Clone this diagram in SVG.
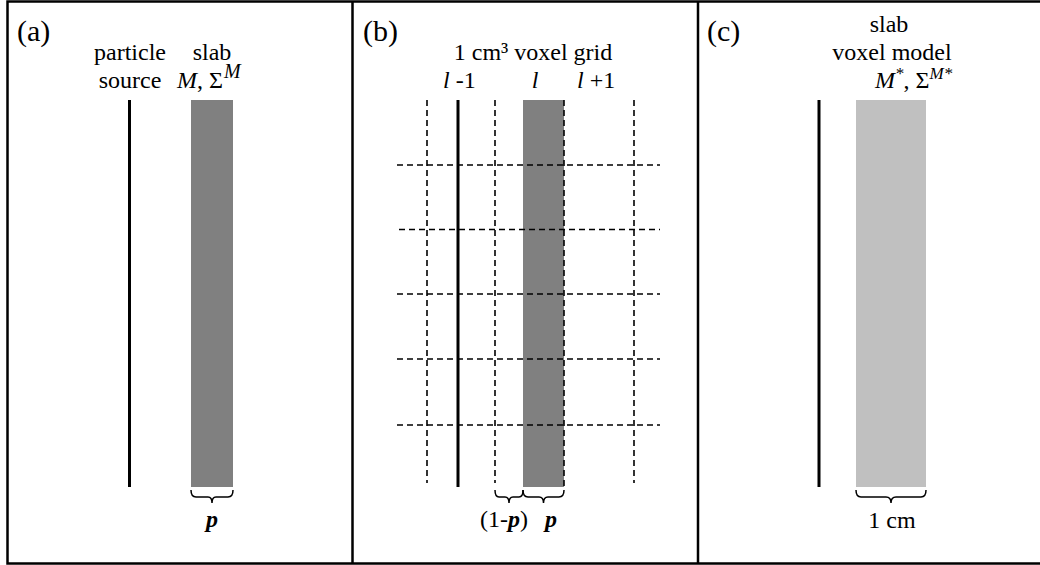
<svg xmlns="http://www.w3.org/2000/svg" width="1040" height="565" viewBox="0 0 1040 565" font-family="'Liberation Serif', 'Times New Roman', 'DejaVu Serif', serif">
<style>
text{font-family:'Liberation Serif','Times New Roman','DejaVu Serif',serif;font-size:24px;fill:#000}
.pl{font-size:30px}
.it{font-style:italic}
.bi{font-style:italic;font-weight:bold}
.sup{font-size:17px;font-style:italic}
.supa{font-size:20px;font-style:italic}
.src{stroke:#000;stroke-width:3;fill:none}
.dash{stroke:#000;stroke-width:1.6;stroke-dasharray:6,4;fill:none}
.brace{stroke:#000;stroke-width:1.5;fill:none}
.frame{stroke:#000;stroke-width:2.5;fill:none}
</style>
<rect width="1040" height="565" fill="#fff"/>
<g id="frame">
<path class="frame" d="M1045,1.5 H7.5 V563.5 H1045 M352.5,1.5 V563.5 M698,1.5 V563.5"/>
</g>
<g id="panel-a">
<text class="pl" x="17" y="41">(a)</text>
<text x="130" y="60" text-anchor="middle">particle</text>
<text x="130" y="88" text-anchor="middle">source</text>
<text x="212" y="60" text-anchor="middle">slab</text>
<text x="177" y="88" font-size="26"><tspan class="it">M</tspan>, Σ<tspan class="supa" dy="-10" dx="1">M</tspan></text>
<line id="source-a" class="src" x1="129.5" y1="100" x2="129.5" y2="487"/>
<rect id="slab-a" x="191" y="100" width="42" height="387" fill="#808080"/>
<path class="brace" d="M191,490 Q191,497 196,497 H208 Q212,497 212,503 Q212,497 216,497 H228 Q233,497 233,490"/>
<text class="bi" x="212" y="527" text-anchor="middle">p</text>
</g>
<g id="panel-b">
<text class="pl" x="363" y="41">(b)</text>
<text x="533" y="60" text-anchor="middle">1 cm³ voxel grid</text>
<text x="443" y="88"><tspan class="it">l</tspan> -1</text>
<text x="535" y="88" class="it" text-anchor="middle">l</text>
<text x="577" y="88"><tspan class="it">l</tspan> +1</text>
<rect id="slab-b" x="523" y="100" width="41" height="387" fill="#808080"/>
<g id="grid">
<line class="dash" x1="427" y1="100" x2="427" y2="483"/>
<line class="dash" x1="495" y1="100" x2="495" y2="483"/>
<line class="dash" x1="564" y1="100" x2="564" y2="487"/>
<line class="dash" x1="634" y1="100" x2="634" y2="483"/>
<line class="dash" x1="397" y1="165" x2="660" y2="165"/>
<line class="dash" x1="399" y1="229.5" x2="660" y2="229.5"/>
<line class="dash" x1="397" y1="294" x2="660" y2="294"/>
<line class="dash" x1="397" y1="359" x2="660" y2="359"/>
<line class="dash" x1="397" y1="425" x2="660" y2="425"/>
</g>
<line id="source-b" class="src" x1="458" y1="100" x2="458" y2="487"/>
<path class="brace" d="M495,490 Q495,497 499,497 H505 Q509,497 509,503 Q509,497 513,497 H519 Q523,497 523,490"/>
<path class="brace" d="M523,490 Q523,497 528,497 H539 Q543.5,497 543.5,503 Q543.5,497 548,497 H559 Q564,497 564,490"/>
<text x="480" y="527">(1-<tspan class="bi">p</tspan>)</text>
<text class="bi" x="551" y="527" text-anchor="middle">p</text>
</g>
<g id="panel-c">
<text class="pl" x="707" y="41">(c)</text>
<text x="889" y="32" text-anchor="middle">slab</text>
<text x="892" y="60" text-anchor="middle">voxel model</text>
<text x="875" y="88"><tspan class="it">M</tspan><tspan class="sup" dy="-9">*</tspan><tspan dy="9">, Σ</tspan><tspan class="sup" dy="-9">M*</tspan></text>
<line id="source-c" class="src" x1="819" y1="100" x2="819" y2="487"/>
<rect id="slab-c" x="856" y="100" width="70" height="387" fill="#c0c0c0"/>
<path class="brace" d="M856,490 Q856,497 861,497 H886 Q891,497 891,503 Q891,497 896,497 H921 Q926,497 926,490"/>
<text x="892" y="528" text-anchor="middle">1 cm</text>
</g>
</svg>
